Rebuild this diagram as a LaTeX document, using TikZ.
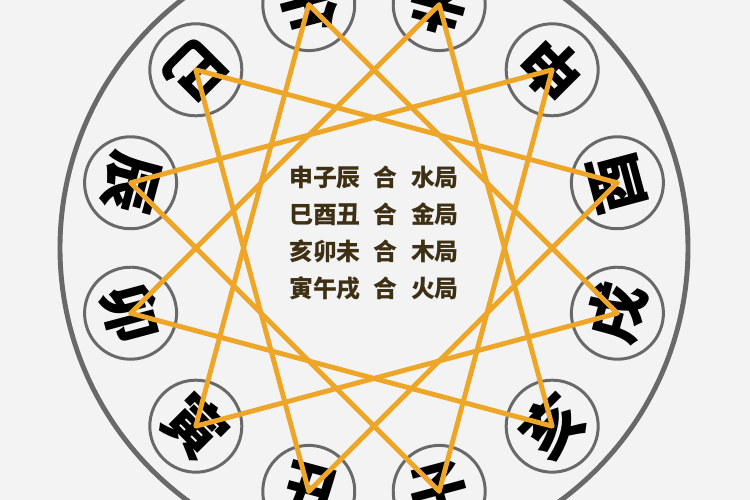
\documentclass[tikz,border=0pt]{standalone}
\usepackage{fontspec}
\newfontfamily\cjk{Noto Sans CJK SC}
\definecolor{gold}{RGB}{238,166,40}
\definecolor{rim}{RGB}{105,105,105}
\definecolor{txt}{RGB}{62,48,20}
\definecolor{bg}{RGB}{243,243,243}
\tikzset{br/.style = {circle, draw=rim, fill=bg, line width=1.7pt, minimum size=18.4mm, inner sep=0pt,
                      font=\cjk\bfseries\fontsize{34}{34}\selectfont},
         ln/.style = {draw=gold, line width=2.8pt, line join=round, line cap=round}}

\begin{document}
\begin{tikzpicture}
    \useasboundingbox (-7.48,-5.04) rectangle (7.52,4.96);
    \clip (-7.48,-5.04) rectangle (7.52,4.96);
    \fill[bg] (-7.48,-5.04) rectangle (7.52,4.96);
    \draw[rim, line width=2.8pt] (0,0) circle (6.28);
    \node[br, rotate=195] (wu)   at (105:5.04) {午}; \node[br, rotate=165] (wei)  at (75:5.04)   {未};
    \node[br, rotate=135] (shen) at (45:5.04)  {申}; \node[br, rotate=105] (you)  at (15:5.04)   {酉};
    \node[br, rotate=75]  (xu)   at (-15:5.04) {戌}; \node[br, rotate=45]  (hai)  at (-45:5.04)  {亥};
    \node[br, rotate=15]  (zi)   at (-75:5.04) {子}; \node[br, rotate=-15] (chou) at (-105:5.04) {丑};
    \node[br, rotate=-45] (yin)  at (-135:5.04) {寅}; \node[br, rotate=-75] (mao) at (-165:5.04) {卯};
    \node[br, rotate=255] (chen) at (165:5.04) {辰}; \node[br, rotate=225] (si)   at (135:5.04)  {巳};
    \node[font=\cjk\bfseries\fontsize{13.6}{21}\selectfont, text=txt, align=left] (he) at (0,0.3)
        {申子辰\hspace{.55em}合\hspace{.55em}水局\\巳酉丑\hspace{.55em}合\hspace{.55em}金局\\
         亥卯未\hspace{.55em}合\hspace{.55em}木局\\寅午戌\hspace{.55em}合\hspace{.55em}火局};
    % san he triangles
    \draw[ln] (shen.center) -- (zi.center) -- (chen.center) -- cycle;
    \draw[ln] (si.center) -- (you.center) -- (chou.center) -- cycle;
    \draw[ln] (hai.center) -- (mao.center) -- (wei.center) -- cycle;
    \draw[ln] (yin.center) -- (wu.center) -- (xu.center) -- cycle;
\end{tikzpicture}
\end{document}
